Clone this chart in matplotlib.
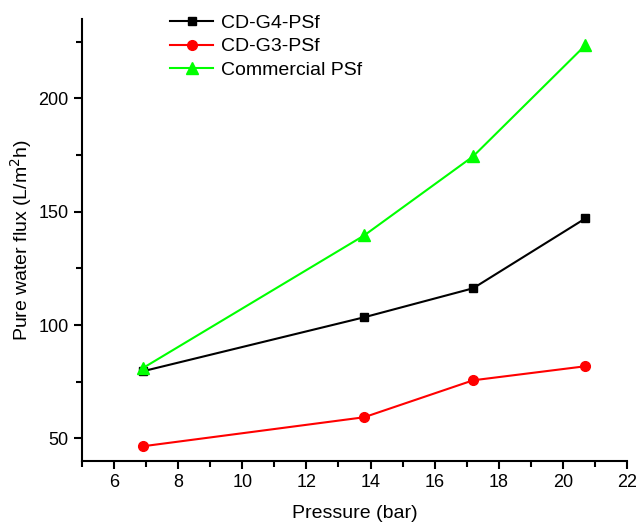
import numpy as np
import matplotlib.pyplot as plt

plt.rcParams["font.family"] = ["Liberation Sans", "DejaVu Sans"]

pressure = [6.9, 13.8, 17.2, 20.7]
flux_g4 = [79.6, 103.4, 116.2, 147.0]
flux_g3 = [46.5, 59.3, 75.6, 81.8]
flux_commercial = [81.0, 139.5, 174.4, 223.4]

fig = plt.figure(figsize=(6.36, 5.26), dpi=100)
ax = fig.add_axes([82/636, 1 - 461/526, (627-82)/636, (461-19)/526])

ax.plot(pressure, flux_g4, color="black", marker="s", ms=6, lw=1.5, label="CD-G4-PSf")
ax.plot(pressure, flux_g3, color="red", marker="o", ms=7, lw=1.5, label="CD-G3-PSf")
ax.plot(pressure, flux_commercial, color="#00ff00", marker="^", ms=8, lw=1.5, label="Commercial PSf")

ax.set_xlim(5, 22)
ax.set_ylim(40, 235)
ax.set_xticks(np.arange(6, 23, 2))
ax.set_xticks(np.arange(5, 23, 1), minor=True)
ax.set_yticks([50, 100, 150, 200])
ax.set_yticks(np.arange(50, 235, 25), minor=True)

for s in ["top", "right"]:
    ax.spines[s].set_visible(False)
for s in ["left", "bottom"]:
    ax.spines[s].set_linewidth(1.5)
ax.tick_params(which="major", direction="out", length=6, width=1.5, labelsize=13)
ax.tick_params(which="minor", direction="out", length=4, width=1.5)

ax.set_xlabel("Pressure (bar)", fontsize=14, labelpad=10)
ax.set_ylabel(r"Pure water flux (L/m$^2$h)", fontsize=14, labelpad=3)

ax.legend(loc="upper left", bbox_to_anchor=(0.13, 1.05), frameon=False,
          fontsize=14, handlelength=2.2, labelspacing=0.3, handletextpad=0.4)

plt.savefig("out.png", dpi=100)
